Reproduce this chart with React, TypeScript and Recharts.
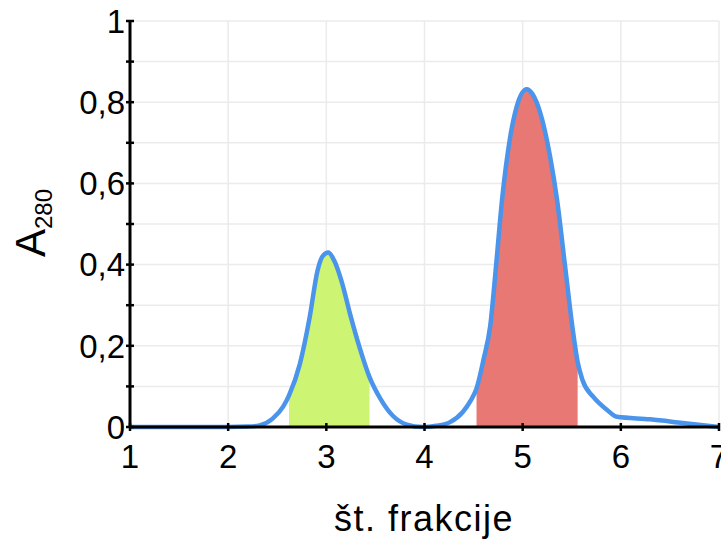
import {
  ComposedChart, Line, Area, XAxis, YAxis, CartesianGrid, Label
} from "recharts";

// fraction number vs absorbance
const fractions = [
  1.0, 1.5, 2.0, 2.2, 2.32, 2.45, 2.56, 2.62, 2.73, 2.83, 2.91, 2.96, 3.02, 3.08, 3.16,
  3.24, 3.34, 3.44, 3.55, 3.68, 3.82, 3.98, 4.12, 4.26, 4.39, 4.47, 4.53, 4.6, 4.67,
  4.73, 4.79, 4.87, 4.94, 5.04, 5.1, 5.18, 5.28, 5.35, 5.43, 5.51, 5.56, 5.61, 5.72,
  5.86, 5.96, 6.3, 6.63, 7.0,
];
const absorbance = [
  0, 0, 0, 0.001, 0.004, 0.02, 0.05, 0.078, 0.155, 0.27, 0.385, 0.42, 0.43, 0.41, 0.355,
  0.28, 0.195, 0.123, 0.07, 0.027, 0.006, 0, 0.003, 0.012, 0.037, 0.065, 0.095, 0.165, 0.25,
  0.4, 0.56, 0.71, 0.79, 0.832, 0.82, 0.773, 0.665, 0.56, 0.4, 0.24, 0.16, 0.115, 0.074,
  0.042, 0.025, 0.019, 0.01, 0,
];

// pooled fractions (shaded)
const greenRange = [2.62, 3.44];
const redRange = [4.53, 5.56];

const xTicks = [1, 2, 3, 4, 5, 6, 7];
const yTicks = [0, 0.1, 0.2, 0.3, 0.4, 0.5, 0.6, 0.7, 0.8, 0.9, 1];
const yLabeled = [0, 0.2, 0.4, 0.6, 0.8, 1];

const data = fractions.map((x, i) => ({
  x,
  a: absorbance[i],
  green: x >= greenRange[0] && x <= greenRange[1] ? absorbance[i] : null,
  red: x >= redRange[0] && x <= redRange[1] ? absorbance[i] : null,
}));

const FONT = "'Liberation Sans', Arial, Helvetica, sans-serif";
const fmt = (v: number) => (v === 0 || v === 1 ? String(v) : v.toFixed(1).replace(".", ","));

const BottomTick = ({ x, y, payload }: any) => (
  <g>
    <line x1={x} x2={x} y1={y - 4} y2={y + 4} stroke="#000" strokeWidth={2.5} />
    <text x={x} y={y + 18} dy="0.71em" textAnchor="middle" fontSize={33} fontFamily={FONT} fill="#000">
      {payload.value}
    </text>
  </g>
);

const TopTick = ({ x, y }: any) => (
  <line x1={x} x2={x} y1={y - 4.5} y2={y + 4.5} stroke="#000" strokeWidth={2.5} />
);

const LeftTick = ({ x, y, payload }: any) => {
  const v = payload.value;
  const show = yLabeled.some((t) => Math.abs(t - v) < 1e-6);
  return (
    <g>
      <line x1={x - 4} x2={x + 4} y1={y} y2={y} stroke="#000" strokeWidth={2.5} />
      {show && (
        <text x={x - 5} y={y} dy="0.36em" textAnchor="end" fontSize={33} fontFamily={FONT} fill="#000">
          {fmt(v)}
        </text>
      )}
    </g>
  );
};

const RightTick = ({ x, y }: any) => (
  <line x1={x - 4} x2={x + 4} y1={y} y2={y} stroke="#000" strokeWidth={2.5} />
);

const YTitle = () => (
  <text transform="rotate(-90)" x={-223} y={45} textAnchor="middle" fontSize={42} fontFamily={FONT} fill="#000">
    A<tspan fontSize={24} dy={7}>280</tspan>
  </text>
);

const XTitle = () => (
  <text x={424} y={531} textAnchor="middle" fontSize={36} letterSpacing={1.5} fontFamily={FONT} fill="#000">
    št. frakcije
  </text>
);

export default function App() {
  return (
    <div style={{ position: "absolute", left: 0, top: 0, width: 721, height: 540, overflow: "hidden", background: "#fff" }}>
      <ComposedChart width={721} height={540} data={data} margin={{ top: 21, right: 2, left: 0, bottom: 0 }}>
        <CartesianGrid stroke="#ebebeb" strokeWidth={1.5} />
        <XAxis
          dataKey="x" type="number" domain={[1, 7]} ticks={xTicks} interval={0}
          height={113} tickSize={0} tickMargin={0} tick={<BottomTick />}
          axisLine={{ stroke: "#000", strokeWidth: 3 }} tickLine={false}
        >
          <Label content={<XTitle />} />
        </XAxis>
        <XAxis
          xAxisId="top" orientation="top" dataKey="x" type="number" domain={[1, 7]} ticks={xTicks}
          interval={0} height={0} tickSize={0} tickMargin={0} tick={<TopTick />}
          axisLine={{ stroke: "#000", strokeWidth: 3 }} tickLine={false}
        />
        <YAxis
          type="number" domain={[0, 1]} ticks={yTicks} interval={0} width={130}
          tickSize={0} tickMargin={0} tick={<LeftTick />}
          axisLine={{ stroke: "#000", strokeWidth: 3 }} tickLine={false}
        >
          <Label content={<YTitle />} />
        </YAxis>
        <YAxis
          yAxisId="right" orientation="right" type="number" domain={[0, 1]} ticks={yTicks}
          interval={0} width={0} tickSize={0} tickMargin={0} tick={<RightTick />}
          axisLine={{ stroke: "#000", strokeWidth: 3 }} tickLine={false}
        />
        <Area type="monotone" dataKey="green" stroke="none" fill="#cdf472" fillOpacity={1} isAnimationActive={false} />
        <Area type="monotone" dataKey="red" stroke="none" fill="#e77873" fillOpacity={1} isAnimationActive={false} />
        <Line type="monotone" dataKey="a" stroke="#4a94ec" strokeWidth={4.5} dot={false} isAnimationActive={false} />
      </ComposedChart>
    </div>
  );
}
